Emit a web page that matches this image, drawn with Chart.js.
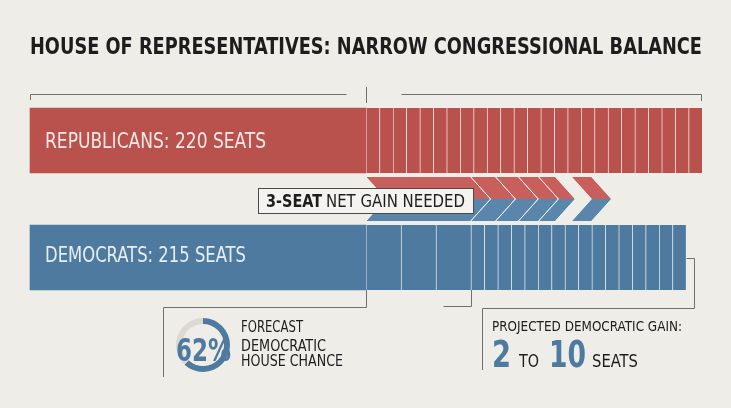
<!DOCTYPE html>
<html>
<head>
<meta charset="utf-8">
<script src="https://cdn.jsdelivr.net/npm/chart.js@4.4.1/dist/chart.umd.min.js"></script>
<style>
  html, body { margin: 0; padding: 0; background: #eeede8; }
  #wrap { position: relative; width: 731px; height: 408px; overflow: hidden; }
  #house { position: absolute; left: 0; top: 0; }
  #donut { position: absolute; left: 158px; top: 315px; }
</style>
</head>
<body>
<div id="wrap">
  <canvas id="house" width="731" height="408"></canvas>
  <canvas id="donut" width="90" height="60"></canvas>
</div>
<script>
// ---- data ----
const rowLabels = ['Republicans', 'Net gain needed', 'Democrats'];
const repSeats = 220;
const demSeats = 215;
const netGainNeeded = 3;
const gainRange = [2, 10];
const demChance = [62, 38];

// bar blocks in axis units: first block is the solid part, then seat by seat
const repBlocks = [25, 1, 1, 1, 1, 1, 1, 1, 1, 1, 1, 1, 1, 1, 1, 1, 1, 1, 1, 1, 1, 1, 1, 1, 1, 1];
const demBlocks = [25, 2.6, 2.6, 2.6, 1, 1, 1, 1, 1, 1, 1, 1, 1, 1, 1, 1, 1, 1, 1, 1];
// middle row: offset, chevrons, gap, chevron
const gainBlocks = [25, 7.8, 1.85, 1.7, 1.5, 1.25, 1.2, 1.5];
const gainArrow = [false, true, true, true, true, true, false, true];

const RED = '#b9514c';
const BLUE = '#4e7aa0';
const RED_ARROW = '#c95f5a';
const BLUE_ARROW = '#5a86ac';
const INK = '#1d1d1d';
const LINE = '#707070';
const COND = "'Liberation Sans Narrow', 'DejaVu Sans Condensed', 'Roboto Condensed', Roboto, sans-serif";

// draws text squeezed/stretched to a given width (condensed look)
function fitText(ctx, str, x, y, size, weight, width, color) {
  ctx.save();
  ctx.font = weight + ' ' + size + 'px ' + COND;
  const w = ctx.measureText(str).width;
  ctx.translate(x, y);
  ctx.scale(width / w, 1);
  ctx.fillStyle = color;
  ctx.textBaseline = 'alphabetic';
  ctx.textAlign = 'left';
  ctx.fillText(str, 0, 0);
  ctx.restore();
}

function row(idx, v) {
  const d = [null, null, null];
  d[idx] = v;
  return d;
}

const datasets = [];
repBlocks.forEach((v, i) => datasets.push({
  data: row(0, v), backgroundColor: RED, barThickness: 65, clip: false,
  borderSkipped: false, borderColor: 'rgba(255,255,255,0.7)',
  borderWidth: i === 0 ? 0 : { left: 1, right: 0, top: 0, bottom: 0 }
}));
gainBlocks.forEach((v, i) => datasets.push({
  data: row(1, v), backgroundColor: 'rgba(0,0,0,0)', barThickness: 44, clip: false,
  borderWidth: 0, arrow: gainArrow[i]
}));
demBlocks.forEach((v, i) => datasets.push({
  data: row(2, v), backgroundColor: BLUE, barThickness: 65, clip: false,
  borderSkipped: false, borderColor: 'rgba(255,255,255,0.7)',
  borderWidth: i === 0 ? 0 : { left: 1, right: 0, top: 0, bottom: 0 }
}));

const decorations = {
  id: 'decorations',
  afterDatasetsDraw(chart) {
    const ctx = chart.ctx;
    const x = chart.scales.x;

    // chevrons of the middle row
    chart.data.datasets.forEach((ds, di) => {
      if (!ds.arrow) return;
      const el = chart.getDatasetMeta(di).data[1];
      const left = el.base, right = el.x;
      const top = el.y - el.height / 2, bot = el.y + el.height / 2, mid = el.y;
      const d = el.height * 0.45;
      ctx.save();
      ctx.fillStyle = RED_ARROW;
      ctx.beginPath();
      ctx.moveTo(left, top); ctx.lineTo(right, top); ctx.lineTo(right + d, mid); ctx.lineTo(left + d, mid);
      ctx.closePath(); ctx.fill();
      ctx.fillStyle = BLUE_ARROW;
      ctx.beginPath();
      ctx.moveTo(left + d, mid); ctx.lineTo(right + d, mid); ctx.lineTo(right, bot); ctx.lineTo(left, bot);
      ctx.closePath(); ctx.fill();
      ctx.strokeStyle = 'rgba(255,255,255,0.85)';
      ctx.lineWidth = 1;
      ctx.beginPath();
      ctx.moveTo(left, top); ctx.lineTo(left + d, mid); ctx.lineTo(left, bot);
      ctx.moveTo(right, top); ctx.lineTo(right + d, mid); ctx.lineTo(right, bot);
      ctx.stroke();
      ctx.restore();
    });

    // brackets
    ctx.save();
    ctx.strokeStyle = LINE;
    ctx.lineWidth = 1;
    const px = v => Math.round(x.getPixelForValue(v)) + 0.5;
    const seg = pts => {
      ctx.beginPath();
      ctx.moveTo(pts[0][0], pts[0][1]);
      for (let i = 1; i < pts.length; i++) ctx.lineTo(pts[i][0], pts[i][1]);
      ctx.stroke();
    };
    seg([[px(0), 100], [px(0), 94.5], [px(23.5), 94.5]]);
    seg([[px(25), 87], [px(25), 103]]);
    seg([[px(27.6), 94.5], [px(50) - 1, 94.5], [px(50) - 1, 101]]);
    seg([[px(9.9), 377], [px(9.9), 307.5], [px(25), 307.5], [px(25), 290]]);
    seg([[px(30.7), 306.5], [px(32.8), 306.5], [px(32.8), 290]]);
    seg([[px(33.6), 370], [px(33.6), 308.5], [px(49.4), 308.5], [px(49.4), 258.5], [px(48.8), 258.5]]);
    ctx.restore();

    // label box
    ctx.save();
    ctx.fillStyle = '#f4f3ef';
    ctx.strokeStyle = '#4a4a4a';
    ctx.lineWidth = 1;
    ctx.fillRect(258.5, 188.5, 215, 25);
    ctx.strokeRect(258.5, 188.5, 215, 25);
    ctx.restore();
    fitText(ctx, netGainNeeded + '-SEAT', 266, 207, 17, 'bold', 56, INK);
    fitText(ctx, 'NET GAIN NEEDED', 326, 207, 17, 'normal', 139, INK);

    // texts
    fitText(ctx, 'HOUSE OF REPRESENTATIVES: NARROW CONGRESSIONAL BALANCE', 30, 53.5, 23, 'bold', 672, INK);
    fitText(ctx, 'REPUBLICANS: ' + repSeats + ' SEATS', 45, 148, 21, 'normal', 221, 'rgba(255,246,244,0.92)');
    fitText(ctx, 'DEMOCRATS: ' + demSeats + ' SEATS', 45, 262, 21, 'normal', 201, 'rgba(244,248,252,0.92)');

    fitText(ctx, 'FORECAST', 241, 332, 16.5, 'normal', 62, INK);
    fitText(ctx, 'DEMOCRATIC', 241, 351, 16.5, 'normal', 85, INK);
    fitText(ctx, 'HOUSE CHANCE', 241, 366, 16.5, 'normal', 102, INK);

    fitText(ctx, 'PROJECTED DEMOCRATIC GAIN:', 492, 331, 14.5, 'normal', 190, INK);
    fitText(ctx, String(gainRange[0]), 492, 367, 37.5, 'bold', 19, BLUE);
    fitText(ctx, 'TO', 519, 367, 17.5, 'normal', 20, INK);
    fitText(ctx, String(gainRange[1]), 549, 367, 37.5, 'bold', 37, BLUE);
    fitText(ctx, 'SEATS', 592, 367, 17.5, 'normal', 46, INK);
  }
};

new Chart(document.getElementById('house'), {
  type: 'bar',
  data: { labels: rowLabels, datasets: datasets },
  options: {
    indexAxis: 'y',
    responsive: false,
    animation: false,
    devicePixelRatio: 1,
    layout: { padding: { left: 30, right: 29, top: 111.25, bottom: 121.25 } },
    scales: {
      x: { type: 'linear', min: 0, max: 50, stacked: true, display: false },
      y: { stacked: true, display: false }
    },
    plugins: { legend: { display: false }, tooltip: { enabled: false }, title: { display: false } }
  },
  plugins: [decorations]
});

const donutLabel = {
  id: 'donutLabel',
  afterDraw(chart) {
    fitText(chart.ctx, demChance[0] + '%', 18, 46, 32, '600', 55, BLUE);
  }
};

new Chart(document.getElementById('donut'), {
  type: 'doughnut',
  data: {
    labels: ['Democratic chance', 'Other'],
    datasets: [{ data: demChance, backgroundColor: [BLUE, '#dcd8d2'], borderWidth: 0 }]
  },
  options: {
    responsive: false,
    animation: false,
    devicePixelRatio: 1,
    cutout: '78%',
    layout: { padding: 3 },
    plugins: { legend: { display: false }, tooltip: { enabled: false } }
  },
  plugins: [donutLabel]
});
</script>
</body>
</html>
